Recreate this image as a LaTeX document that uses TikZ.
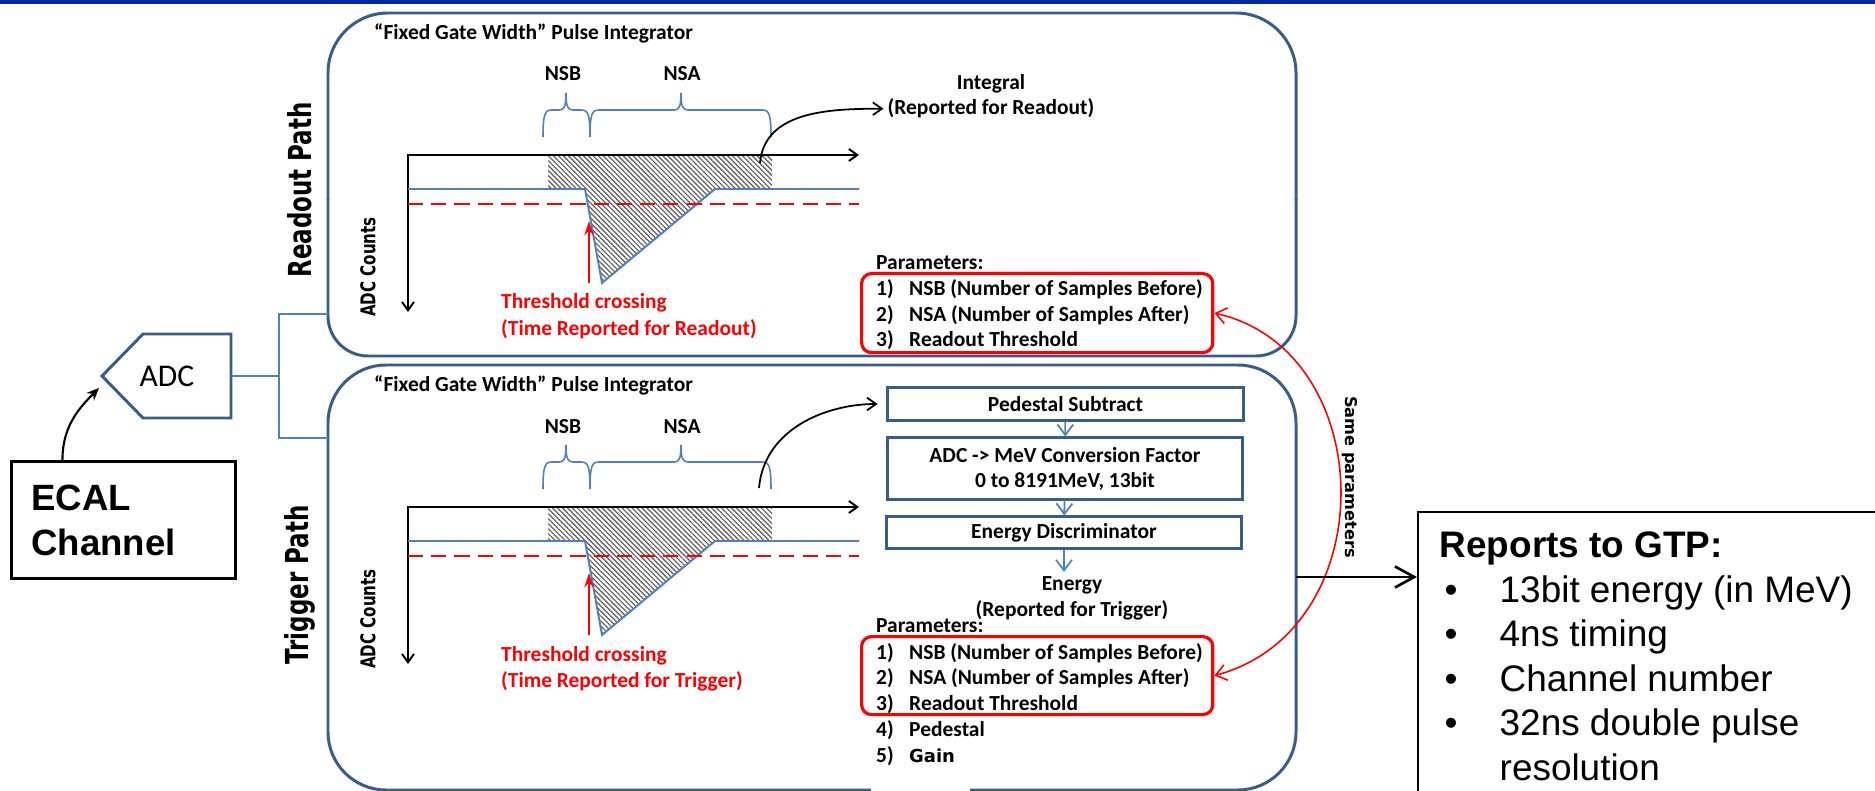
\documentclass[tikz,border=0pt]{standalone}
\usepackage{fontspec}
\setmainfont{Carlito}
\newfontfamily\arialfont{Liberation Sans}
\newfontfamily\verdfont{DejaVu Sans}
\usetikzlibrary{arrows.meta}
\usetikzlibrary{patterns.meta}
\usetikzlibrary{positioning}
\usepackage{xcolor}
\definecolor{boxblue}{RGB}{56,93,138}
\definecolor{wireblue}{RGB}{79,129,189}
\definecolor{barblue}{RGB}{0,40,160}
\newcommand{\gainfont}{\verdfont\bfseries\fontsize{5.1}{6}\selectfont}
\newcommand{\gatebrace}[3]{%
\draw[gatebr] (#1,137) .. controls (#1,114) and ({#1+2},110) .. ({#1+9},110) -- ({#2-7},110) .. controls ({#2-2},110) and (#2,107) .. (#2,93) .. controls (#2,107) and ({#2+2},110) .. ({#2+7},110) -- ({#3-9},110) .. controls ({#3-2},110) and (#3,114) .. (#3,137);}

\begin{document}
\begin{tikzpicture}[x=0.01cm, y=-0.01cm,
  boxline/.style={draw=boxblue, line width=0.85pt},
  wire/.style={wireblue, line width=0.5pt},
  gatebr/.style={wireblue, line width=0.45pt},
  pulse/.style={wireblue, line width=0.55pt},
  plotaxis/.style={black, line width=0.55pt},
  thrline/.style={red, line width=0.55pt, dash pattern=on 4.3pt off 2.3pt},
  hatcharea/.style={pattern={Lines[angle=-45, distance=1pt, line width=0.33pt]}, pattern color=black!65},
  thrarrow/.style={red, line width=0.6pt, -{Stealth[length=4pt, width=2.6pt]}},
  lbl/.style={font=\fontsize{6.1}{7.1}\selectfont\bfseries, inner sep=1pt},
  redlbl/.style={lbl, text=red},
  vlbl/.style={font=\verdfont\bfseries\fontsize{#1}{#1}\selectfont, inner sep=0pt},
  procbox/.style={boxline, lbl, minimum width=3.55cm, align=center, inner sep=0pt},
  parambox/.style={draw=red, line width=0.9pt, rounded corners=0.1cm, minimum width=3.51cm, minimum height=0.79cm, anchor=north west, inner sep=0pt},
  flow/.style={wireblue, line width=0.5pt, -{Straight Barb[length=3pt, width=4.5pt]}},
  outarrow/.style={black, line width=0.5pt, -{Straight Barb[length=2.6pt, width=3.6pt]}},
  gtptxt/.style={font=\arialfont\fontsize{10.5}{12.6}\selectfont, inner sep=0pt, anchor=base west}
]
\useasboundingbox (0,0) rectangle (1875,791);
\clip (0,0) rectangle (1875,791);
\fill[barblue] (0,0) rectangle (1875,4.5);

\draw[boxline, rounded corners=0.6cm] (328,200) |- (1296,13) -- (1296,200);
\draw[boxline, rounded corners=0.4cm] (328,199) |- (1296,356) -- (1296,199);
\draw[boxline, rounded corners=0.58cm] (328,365) rectangle (1296,790);
\fill[white] (871,783) rectangle (970,795);

\node[vlbl=9, rotate=90] (rpath) at (300,190) {\scalebox{0.725}[1]{Readout Path}};
\node[vlbl=9, rotate=90] (tpath) at (300,585) {\scalebox{0.725}[1]{Trigger Path}};

\foreach \dy/\nm/\what in {0/r/Readout, 352/t/Trigger} {
\begin{scope}[shift={(0,\dy)}]
  \node[lbl, anchor=base west] (pi\nm) at (370,40) {“Fixed Gate Width” Pulse Integrator};
  \fill[hatcharea] (548,155) -- (772,155) -- (772,189) -- (715,189) -- (602,283) -- (585,189) -- (548,189) -- cycle;
  \draw[plotaxis, {Straight Barb[length=2.4pt, width=3.4pt]}-{Straight Barb[length=2.4pt, width=3.4pt]}] (859,155) -- (408,155) -- (408,312);
  \draw[pulse] (408,189) -- (585,189) -- (602,283) -- (715,189) -- (859,189);
  \draw[thrline] (408,204) -- (859,204);
  \gatebrace{543}{566}{590}
  \gatebrace{590}{681}{771}
  \node[lbl, anchor=base] (nsb\nm) at (563,81) {NSB};
  \node[lbl, anchor=base] (nsa\nm) at (682,81) {NSA};
  \node[vlbl=5.8, rotate=90] (cnt\nm) at (368,267) {\scalebox{0.74}[1]{ADC Counts}};
  \node[redlbl, anchor=base west] (thr\nm) at (497,309) {Threshold crossing};
  \node[redlbl, anchor=base west] (thrt\nm) at (497,335) {(Time Reported for \what)};
  \draw[thrarrow] (589,283) -- (589,221);
\end{scope}
}

\node[lbl, anchor=base] (intg) at (991,90) {Integral};
\node[lbl, anchor=base] (intgsub) at (991,115) {(Reported for Readout)};
\coordinate (rgo) at (760,163);
\draw[outarrow] (rgo) to[out=85, in=180] (intgsub.west);

\node[procbox, minimum height=0.32cm] (ped) at (1065.5,404) {Pedestal Subtract};
\node[procbox, minimum height=0.61cm] (conv) at (1065,468.5) {ADC -> MeV Conversion Factor\\0 to 8191MeV, 13bit};
\node[procbox, minimum height=0.31cm] (disc) at (1064,532.5) {Energy Discriminator};
\node[lbl, anchor=base] (energy) at (1072,590) {Energy};
\node[lbl, anchor=base] (energysub) at (1072,616) {(Reported for Trigger)};
\coordinate (tgo) at (759,488);
\draw[outarrow, shorten >=2.5pt] (tgo) to[out=85, in=180] (ped.west);
\draw[flow] (ped) -- (conv);
\draw[flow] (conv) -- (disc);
\draw[flow] (disc.south) -- (disc.south |- energy.north);

\node[lbl, anchor=base west] (rparhd) at (872,270) {Parameters:};
\foreach \i/\txt in {1/NSB (Number of Samples Before), 2/NSA (Number of Samples After), 3/Readout Threshold}
  \node[lbl, anchor=base west] (rpar\i) at (872,{295+(\i-1)*26}) {\makebox[0.33cm][l]{\i)}\txt};
\node[parambox] (rsel) at (860,272) {};

\node[lbl, anchor=base west] (tparhd) at (872,632) {Parameters:};
\foreach \i/\txt in {1/NSB (Number of Samples Before), 2/NSA (Number of Samples After), 3/Readout Threshold, 4/Pedestal, 5/{\gainfont Gain}}
  \node[lbl, anchor=base west] (tpar\i) at (872,{659+(\i-1)*25.75}) {\makebox[0.33cm][l]{\i)}\txt};
\node[parambox, minimum height=0.78cm] (tsel) at (860,635) {};

\draw[red, line width=0.45pt, {Straight Barb[length=3pt, width=4.5pt]}-{Straight Barb[length=3pt, width=4.5pt]}] (rsel.east) .. controls (1380,350) and (1385,630) .. (tsel.east);
\node[vlbl=4.6, rotate=-90] (same) at (1350,477) {Same parameters};

\draw[boxline] (102,376) -- (143,334) -- (231,334) -- (231,418) -- (143,418) -- cycle;
\node[font=\fontsize{9}{10}\selectfont, inner sep=0pt] (adc) at (167,376) {ADC};
\coordinate (adcout) at (231,376);
\coordinate (adcin) at (99,388);
\coordinate (split) at (279,376);
\coordinate (rin) at (328,314);
\coordinate (tin) at (328,438);
\draw[wire] (adcout) -- (split);
\draw[wire] (rin) -| (split) |- (tin);

\node[draw, line width=0.8pt, anchor=north west, text width=1.84cm, inner xsep=0.2cm, minimum height=1.17cm, align=left, font=\arialfont\bfseries\fontsize{10.4}{12.8}\selectfont] (ecal) at (10,460) {ECAL\\Channel};
\draw[black, line width=0.6pt, -{Stealth[length=3.5pt, width=3pt]}] ([xshift=-0.61cm]ecal.north) to[out=90, in=225] (adcin);

\node[draw, line width=0.7pt, anchor=north west, minimum width=5cm, minimum height=3cm, inner sep=0pt] (gtp) at (1417,511) {};
\coordinate (tout) at (1296,577);
\draw[black, line width=0.75pt, -{Straight Barb[length=5.5pt, width=6pt]}] (tout) -- (gtp.west |- tout);
\node[gtptxt, font=\arialfont\bfseries\fontsize{10.5}{12.6}\selectfont] (gtphd) at (1439,557) {Reports to GTP:};
\foreach \i/\txt/\yb in {1/13bit energy (in MeV)/602, 2/4ns timing/646.5, 3/Channel number/691, 4/32ns double pulse/735.5} {
  \node[gtptxt] (gtpb\i) at (1444,\yb) {•};
  \node[gtptxt] (gtp\i) at (1499,\yb) {\txt};
}
\node[gtptxt] (gtp5) at (1499,780) {resolution};
\end{tikzpicture}
\end{document}
